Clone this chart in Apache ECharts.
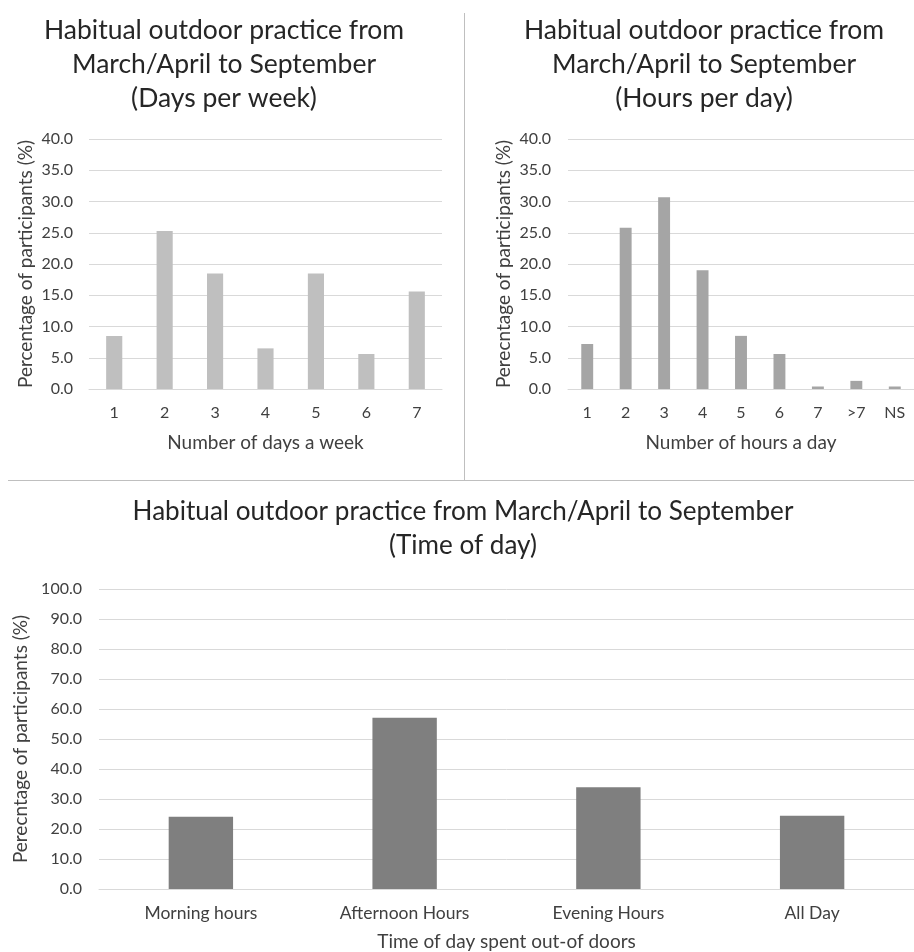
<!DOCTYPE html>
<html>
<head>
<meta charset="utf-8">
<script src="https://cdn.jsdelivr.net/npm/echarts@6/dist/echarts.min.js"></script>
<style>
html,body{margin:0;padding:0;background:#fff;}
#chart{width:914px;height:952px;}
</style>
</head>
<body>
<div id="chart"></div>
<script>
// ---- data ----
const daysCategories = ['1', '2', '3', '4', '5', '6', '7'];
const daysValues = [8.5, 25.3, 18.5, 6.5, 18.5, 5.6, 15.6];

const hoursCategories = ['1', '2', '3', '4', '5', '6', '7', '>7', 'NS'];
const hoursValues = [7.2, 25.8, 30.7, 19.0, 8.5, 5.6, 0.4, 1.3, 0.4];

const timeCategories = ['Morning hours', 'Afternoon Hours', 'Evening Hours', 'All Day'];
const timeValues = [24.1, 57.1, 33.9, 24.4];

const titleDays = 'Habitual outdoor practice from\nMarch/April to September\n(Days per week)';
const titleHours = 'Habitual outdoor practice from\nMarch/April to September\n(Hours per day)';
const titleTime = 'Habitual outdoor practice from March/April to September\n(Time of day)';

// ---- styling ----
const FONT = 'Lato, "Open Sans", sans-serif';
const LABEL = '#404040';
const GRIDC = '#d9d9d9';

const chart = echarts.init(document.getElementById('chart'), null, {renderer: 'canvas'});

function xAxisCfg(gridIndex, data, name, labelSize, nameSize, nameGap, margin) {
  return {
    type: 'category', gridIndex, data, name,
    nameLocation: 'middle', nameGap,
    nameTextStyle: {color: LABEL, fontSize: nameSize, fontFamily: FONT},
    axisLine: {show: true, lineStyle: {color: GRIDC, width: 1}},
    axisTick: {show: false},
    axisLabel: {color: LABEL, fontSize: labelSize, fontFamily: FONT, margin, interval: 0}
  };
}
function yAxisCfg(gridIndex, max, interval, name, nameGap, margin) {
  return {
    type: 'value', gridIndex, min: 0, max, interval, name,
    nameLocation: 'middle', nameGap,
    nameTextStyle: {color: LABEL, fontSize: 19, fontFamily: FONT},
    axisLine: {show: false}, axisTick: {show: false},
    splitLine: {show: true, lineStyle: {color: GRIDC, width: 1}},
    axisLabel: {color: LABEL, fontSize: 16, fontFamily: FONT, margin,
      formatter: v => v.toFixed(1)}
  };
}
function titleText(x, y, text, size) {
  return {type: 'text', x, y, silent: true,
    style: {text, fill: '#262626', fontSize: size, fontFamily: FONT,
      align: 'center', verticalAlign: 'top', lineHeight: 34}};
}

const option = {
  backgroundColor: '#ffffff',
  animation: false,
  grid: [
    {left: 89, top: 139, width: 353, height: 250},
    {left: 568, top: 139, width: 350, height: 250},
    {left: 99, top: 589, width: 822, height: 300}
  ],
  xAxis: [
    xAxisCfg(0, daysCategories, 'Number of days a week', 16, 19, 44, 16),
    xAxisCfg(1, hoursCategories, 'Number of hours a day', 16, 19, 44, 16),
    xAxisCfg(2, timeCategories, 'Time of day spent out-of doors', 17.5, 19, 43, 15)
  ],
  yAxis: [
    yAxisCfg(0, 40, 5, 'Percentage of participants (%)', 54, 16),
    yAxisCfg(1, 40, 5, 'Perecntage of participants (%)', 55, 17),
    yAxisCfg(2, 100, 10, 'Perecntage of participants (%)', 66, 17)
  ],
  series: [
    {type: 'bar', xAxisIndex: 0, yAxisIndex: 0, data: daysValues, barWidth: '32%',
      itemStyle: {color: '#bfbfbf'}},
    {type: 'bar', xAxisIndex: 1, yAxisIndex: 1, data: hoursValues, barWidth: '31%',
      itemStyle: {color: '#a5a5a5'}},
    {type: 'bar', xAxisIndex: 2, yAxisIndex: 2, data: timeValues, barWidth: '31.6%',
      itemStyle: {color: '#7f7f7f'}}
  ],
  graphic: [
    {type: 'line', silent: true, shape: {x1: 464.5, y1: 13, x2: 464.5, y2: 480},
      style: {stroke: '#bfbfbf', lineWidth: 1}},
    {type: 'line', silent: true, shape: {x1: 8, y1: 480.5, x2: 914, y2: 480.5},
      style: {stroke: '#bfbfbf', lineWidth: 1}},
    titleText(224, 13, titleDays, 26.5),
    titleText(704, 13, titleHours, 26.5),
    titleText(463, 495, titleTime, 26.1)
  ]
};
chart.setOption(option);
</script>
</body>
</html>
